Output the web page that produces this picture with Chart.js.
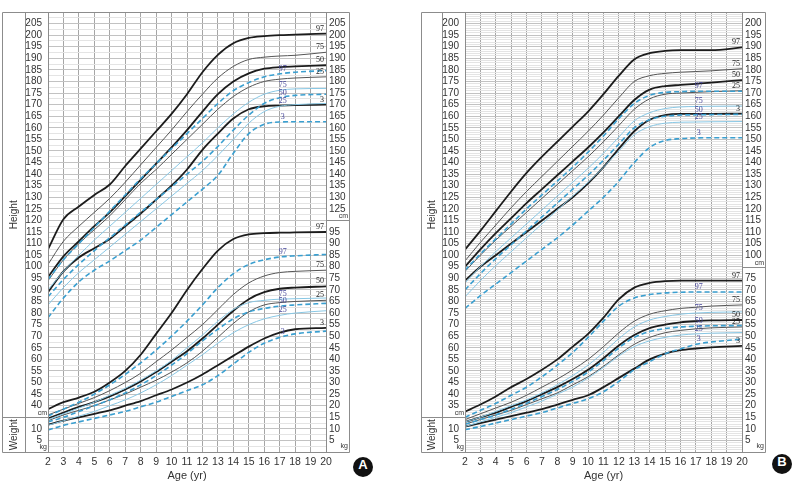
<!DOCTYPE html>
<html>
<head>
<meta charset="utf-8">
<script src="https://cdn.jsdelivr.net/npm/chart.js@4.4.1/dist/chart.umd.min.js"></script>
<style>
  html, body { margin: 0; padding: 0; background: #fff; }
  #wrap { position: relative; width: 794px; height: 484px; overflow: hidden; }
  canvas { position: absolute; top: 0; }
  .badge {
    position: absolute; width: 20px; height: 20px; border-radius: 50%;
    background: #111; color: #fff; text-align: center; line-height: 20px;
    font: bold 13px 'Liberation Sans', Arial, sans-serif;
  }
</style>
</head>
<body>
<div id="wrap">
  <canvas id="chartA" width="352" height="484" style="left:0px"></canvas>
  <canvas id="chartB" width="350" height="484" style="left:417px"></canvas>
  <div class="badge" style="left:353px;top:457px">A</div>
  <div class="badge" style="left:772px;top:454px">B</div>
</div>
<script>
// ─── Data ──────────────────────────────────────────────────────────────────
const AGES = [2, 3, 4, 5, 6, 7, 8, 9, 10, 11, 12, 13, 14, 15, 16, 17, 18, 20];
const AGE_TICKS = [2, 20];

// Panel A — height (cm)
const A_HT_BLACK_97 = [107.5,120.5,126,131,135.5,143.5,151,158.5,166,174.5,184,191.5,196.5,198.8,199.6,200,200.2,200.7];
const A_HT_BLACK_75 = [101,111,117.5,123.5,129.5,136.5,144,151.5,159,167,174.5,181.5,186.5,189.5,190.5,191,191.3,192.6];
const A_HT_BLACK_50 = [95.5,104.5,111,117.5,123.5,130.5,137.5,144.5,151.5,159,167,174.5,180,183.5,185.5,186.2,186.5,187];
const A_HT_BLACK_25 = [94,103,110,116,122,129,136,142,148.5,155,161.5,168,173.5,177.5,180,181,181.5,182];
const A_HT_BLACK_3  = [89,98,104,108,112,117.5,123,129,135,142,150.5,157.5,164,168,169.3,169.6,169.8,170];
const A_HT_BLUE_97  = [94.5,103,110,117,124,131,138,144.5,151,157.5,164,170.5,176,179.5,182,183.3,184,184.7];
const A_HT_BLUE_75  = [90,98,105,111.5,117.5,123.5,129.5,135.5,141.5,147.5,153.5,160,166,171,174.5,176.2,176.8,177];
const A_HT_BLUE_50  = [87,94.5,101,107,112.5,118,123.5,129,134.5,140,145.5,152,159,165.5,170.5,173,174,174.5];
const A_HT_BLUE_25  = [83.5,91,97.5,103,108.5,114,119.5,125,130.5,136,141.5,148,155,162,167,169.3,170,170.5];
const A_HT_BLUE_3   = [78,86.5,93.5,98.5,102.5,107,111.5,117,122.5,128,133.5,139.5,149,157.5,161.5,162.5,162.6,162.6];

// Panel A — weight (kg)
const A_WT_BLACK_97 = [18.5,21.5,23.5,26,30,35,42,51,60,70,79,87,92,94,94.5,94.7,94.8,95];
const A_WT_BLACK_75 = [16,18.5,21,23.5,26.5,30,34,39,44,49.5,55,61.5,68,73,76,77.5,78,78.5];
const A_WT_BLACK_50 = [14.5,17,19.5,21.5,24,27,30.5,34.5,39,43.5,49,55,61,66,69,70.5,71,71.5];
const A_WT_BLACK_25 = [13.5,16,18,20,22.5,25,28,31,34.5,38.5,43.5,49.5,55.5,60.5,63.5,64.5,65,65.5];
const A_WT_BLACK_3  = [11.8,13.5,15,16.5,18,20,22,24.5,27,30,33.5,37.5,41.5,45.5,49,51.5,53,53.6];
const A_WT_BLUE_97  = [15.5,18.5,21.5,25,29,33.5,38.5,44,50,56.5,63.5,71,77,81,83,84.2,84.7,85.3];
const A_WT_BLUE_75  = [14,16.5,19,21.5,24.5,27.5,31,35,39.5,45,50.5,56.5,61.5,64.5,65.5,66,66.2,66.5];
const A_WT_BLUE_50  = [13,15,17.5,20,22.5,25.5,29,33,37.5,42.5,48,53,57.5,60.5,62,63,63.5,64.2];
const A_WT_BLUE_25  = [11.5,13.5,15.5,17.5,20,22.5,25.5,29,33,37.5,42,47,51.5,55,57.5,59,60,61];
const A_WT_BLUE_3   = [9.5,11.5,13,14.5,16,17.5,19.5,21.5,24,26.5,29,33,38,43,47,49.5,51,52.2];

// Panel B — height (cm)
const B_HT_BLACK_97 = [102.4,110.5,119,127.5,135.5,142.5,149,155.5,162,169.5,177.5,184.5,187.2,188.2,188.5,188.5,188.5,189.7];
const B_HT_BLACK_75 = [97.5,105.5,113,120.5,127.5,134,140.5,147,153.5,160.5,168,175,177.5,178.5,179,179.3,179.6,180.5];
const B_HT_BLACK_50 = [95,102.5,109.5,116,122.5,128.5,134.5,140.5,146.5,153,160,167,171.5,173,173.5,174,174.5,175.6];
const B_HT_BLACK_25 = [93,100,106.5,112.5,118.5,124.5,130.5,136.5,142.5,149,156,163,167.5,169.5,170,170.3,170.6,171];
const B_HT_BLACK_3  = [89,95,100,105,110,115,120,125,131,138,146,153.5,158.5,160.5,161,161,161,161.1];
const B_HT_BLUE_97  = [93.5,100.5,107,113.5,120,126,132,138,144.5,151.5,159,165.5,169,170.3,170.6,170.8,170.8,170.8];
const B_HT_BLUE_75  = [88,95,101.5,107.5,113.5,119.5,125.5,131.5,137.5,144,151,158,161.5,163.3,164,164.2,164.3,164.4];
const B_HT_BLUE_50  = [85,92,98.5,104.5,110.5,116.5,122.5,128.5,134.5,141,148,155,158.5,160,160.5,160.6,160.7,160.8];
const B_HT_BLUE_25  = [82,89,95.5,101.5,107.5,113.5,119.5,125.5,131.5,138,145,152,155.5,157,157.4,157.5,157.6,157.7];
const B_HT_BLUE_3   = [77,82.5,87.5,92.5,97.5,102.5,107.5,113,119,125,132,140,146.5,149.5,150.3,150.6,150.7,150.7];

// Panel B — weight (kg)
const B_WT_BLACK_97 = [17.4,20.5,24,28,31.5,35.5,40,45.5,51,58,66,71,73,73.8,74,74,74,74];
const B_WT_BLACK_75 = [14,16.5,19,21.5,24.5,28,31.5,35.5,40,45.5,51.5,56.5,59.5,61,62,62.5,63,63.5];
const B_WT_BLACK_50 = [13,15,17,19.5,22,25,28,31.5,35.5,40.5,46,50.5,53.5,55,56,56.5,56.8,57];
const B_WT_BLACK_25 = [12,14,16,18,20.5,23,25.5,29,32.5,37,42,46.5,49.5,51.5,52.5,53.2,53.6,54];
const B_WT_BLACK_3  = [11,12.5,14,15.5,17,18.5,20.5,22.5,24.5,28,32,36,40,42.5,44,44.7,45.2,45.8];
const B_WT_BLUE_97  = [15,18,21,24.5,28,32.5,37.5,43,49.5,56.5,63,66.5,68,68.7,69,69.1,69.1,69.1];
const B_WT_BLUE_75  = [13,15,17.5,20,22.5,25.5,29,33,37.5,43,49,54,57,58.5,59.5,60,60.3,60.5];
const B_WT_BLUE_50  = [12,14,16,18.5,21,24,27,30.5,34.5,39.5,45,49.5,52,53.3,54,54.3,54.5,54.6];
const B_WT_BLUE_25  = [11,13,15,17,19.5,22,25,28,32,36.5,41.5,45.5,48,49.5,50.5,51,51.3,51.6];
const B_WT_BLUE_3   = [9.6,11,12.5,14,15.5,17,19,21,23,26,30.5,35.5,39,42.4,44.5,46.5,47.5,48.7];

// Axis label ranges (left: cm above the divider, kg below; right: cm above, kg below)
const A_LEFT_CM = [40, 205],  A_LEFT_KG = [5, 10],  A_RIGHT_CM = [125, 205], A_RIGHT_KG = [5, 95];
const B_LEFT_CM = [35, 200],  B_LEFT_KG = [5, 10],  B_RIGHT_CM = [100, 200], B_RIGHT_KG = [5, 75];

// ─── Styles ────────────────────────────────────────────────────────────────
const SANS = "'Liberation Sans', Arial, sans-serif";
const STYLE = {
  blackThick: { borderColor: '#1c1c1c', borderWidth: 1.8 },
  blackThin:  { borderColor: '#555555', borderWidth: 1 },
  blueDash:   { borderColor: '#3a9fd0', borderWidth: 1.6, borderDash: [5, 3] },
  blueThin:   { borderColor: '#88c7e4', borderWidth: 1 },
};

function series(values, pct, ref, axis) {
  const thick = pct === '97' || pct === '50' || pct === '3';
  const st = ref ? (thick ? STYLE.blackThick : STYLE.blackThin)
                 : (thick ? STYLE.blueDash : STYLE.blueThin);
  return Object.assign({
    label: pct,
    ref: ref,
    data: AGES.map((a, i) => ({ x: a, y: values[i] })),
    yAxisID: axis,
    pointRadius: 0,
    fill: false,
    cubicInterpolationMode: 'monotone',
  }, st);
}

function between(v, r) { return v >= r[0] && v <= r[1] && v % 5 === 0; }

// Percentile labels on the curves
const curveLabels = {
  id: 'curveLabels',
  afterDatasetsDraw(chart) {
    const { ctx } = chart;
    ctx.save();
    ctx.font = "8px 'Liberation Serif', 'DejaVu Serif', serif";
    chart.data.datasets.forEach((ds, i) => {
      const pts = chart.getDatasetMeta(i).data;
      if (ds.ref) {
        const p = pts[pts.length - 1];
        ctx.fillStyle = '#222';
        ctx.textAlign = 'right';
        ctx.fillText(ds.label, p.x - 2, p.y - 3);
      } else {
        const p = pts[AGES.indexOf(17)];
        ctx.fillStyle = '#45459a';
        ctx.textAlign = 'center';
        ctx.fillText(ds.label, p.x + 3, p.y - 3);
      }
    });
    ctx.restore();
  }
};

// Frame, separators and side titles
const frame = {
  id: 'frame',
  afterDraw(chart, args, o) {
    const { ctx, chartArea: ca, scales } = chart;
    const top = ca.top, bot = ca.bottom;
    const yL = Math.round(scales.y.getPixelForValue(o.divLeft)) + 0.5;
    const yR = Math.round(scales.yw.getPixelForValue(o.divRight)) + 0.5;
    ctx.save();
    ctx.strokeStyle = '#8c8c8c';
    ctx.lineWidth = 1;
    ctx.beginPath();
    ctx.rect(o.frameL + 0.5, top + 0.5, o.frameR - o.frameL, bot - top);
    ctx.moveTo(o.innerX + 0.5, top); ctx.lineTo(o.innerX + 0.5, bot);
    ctx.moveTo(ca.left + 0.5, top); ctx.lineTo(ca.left + 0.5, bot);
    ctx.moveTo(ca.right + 0.5, top); ctx.lineTo(ca.right + 0.5, bot);
    ctx.moveTo(o.frameL, yL); ctx.lineTo(ca.left, yL);
    ctx.moveTo(ca.right, yR); ctx.lineTo(o.frameR, yR);
    ctx.stroke();

    ctx.fillStyle = '#333';
    ctx.font = '10px ' + SANS;
    ctx.textAlign = 'center';
    ctx.textBaseline = 'middle';
    const cx = (o.frameL + o.innerX) / 2 + 1;
    [['Height', (top + yL) / 2], ['Weight', (yL + bot) / 2]].forEach(([t, cy]) => {
      ctx.save();
      ctx.translate(cx, cy);
      ctx.rotate(-Math.PI / 2);
      ctx.fillText(t, 0, 0);
      ctx.restore();
    });

    ctx.font = '7px ' + SANS;
    ctx.textAlign = 'right';
    ctx.textBaseline = 'bottom';
    ctx.fillText('cm', ca.left - 1, yL - 1);
    ctx.fillText('kg', ca.left - 1, bot - 1);
    ctx.fillText('cm', o.frameR - 1, yR - 1);
    ctx.fillText('kg', o.frameR - 1, bot - 2);
    ctx.restore();
  }
};

function makeChart(id, sets, cfg) {
  const tickFont = { family: SANS, size: 10 };
  return new Chart(document.getElementById(id), {
    type: 'line',
    data: { datasets: sets },
    plugins: [curveLabels, frame],
    options: {
      responsive: false,
      animation: false,
      layout: { padding: { left: 0, right: 0, top: cfg.top, bottom: 0 } },
      plugins: {
        legend: { display: false },
        tooltip: { enabled: false },
        frame: cfg,
      },
      scales: {
        x: {
          type: 'linear', min: AGE_TICKS[0], max: AGE_TICKS[1],
          afterFit: s => { s.height = 484 - 452; },
          ticks: { stepSize: 1, color: '#333', font: { family: SANS, size: 10.5 }, padding: 4, maxRotation: 0 },
          grid: { color: '#a6a6a6', drawTicks: false },
          border: { display: false },
          title: { display: true, text: 'Age (yr)', color: '#333',
                   font: { family: SANS, size: 11 }, padding: { top: 0, bottom: 1 } },
        },
        y: {
          type: 'linear', position: 'left', min: cfg.hMin, max: cfg.hMin + 190,
          afterFit: s => { s.width = cfg.plotL; },
          ticks: {
            stepSize: cfg.minor, autoSkip: false, color: '#333', font: tickFont, padding: 6,
            callback: v => between(v, cfg.leftCm) ? v
                         : between(v - cfg.off, cfg.leftKg) ? v - cfg.off : '',
          },
          grid: { drawTicks: false,
                  color: c => c.tick.value % 5 === 0 ? '#c2c2c2' : '#e4e4e4' },
          border: { display: false },
        },
        yw: {
          type: 'linear', position: 'right', min: cfg.hMin - cfg.off, max: cfg.hMin - cfg.off + 190,
          afterFit: s => { s.width = cfg.width - cfg.plotR; },
          ticks: {
            stepSize: 1, autoSkip: false, color: '#333', font: tickFont, padding: 3,
            callback: v => between(v, cfg.rightKg) ? v
                         : between(v + cfg.off, cfg.rightCm) ? v + cfg.off : '',
          },
          grid: { display: false, drawTicks: false },
          border: { display: false },
        },
      },
    },
  });
}

function panelSets(ht, wt) {
  const pcts = ['97', '75', '50', '25', '3'];
  const out = [];
  [[ht, 'y'], [wt, 'yw']].forEach(([grp, ax]) => {
    grp.blue.forEach((v, i) => out.push(series(v, pcts[i], false, ax)));
    grp.black.forEach((v, i) => out.push(series(v, pcts[i], true, ax)));
  });
  return out;
}

makeChart('chartA', panelSets(
  { black: [A_HT_BLACK_97, A_HT_BLACK_75, A_HT_BLACK_50, A_HT_BLACK_25, A_HT_BLACK_3],
    blue:  [A_HT_BLUE_97, A_HT_BLUE_75, A_HT_BLUE_50, A_HT_BLUE_25, A_HT_BLUE_3] },
  { black: [A_WT_BLACK_97, A_WT_BLACK_75, A_WT_BLACK_50, A_WT_BLACK_25, A_WT_BLACK_3],
    blue:  [A_WT_BLUE_97, A_WT_BLUE_75, A_WT_BLUE_50, A_WT_BLUE_25, A_WT_BLUE_3] }),
  { width: 352, top: 2, plotL: 48, plotR: 326, frameL: 2, innerX: 25, frameR: 349,
    hMin: 20, off: 20, divLeft: 35, divRight: 100, minor: 2.5,
    leftCm: A_LEFT_CM, leftKg: A_LEFT_KG, rightCm: A_RIGHT_CM, rightKg: A_RIGHT_KG });

makeChart('chartB', panelSets(
  { black: [B_HT_BLACK_97, B_HT_BLACK_75, B_HT_BLACK_50, B_HT_BLACK_25, B_HT_BLACK_3],
    blue:  [B_HT_BLUE_97, B_HT_BLUE_75, B_HT_BLUE_50, B_HT_BLUE_25, B_HT_BLUE_3] },
  { black: [B_WT_BLACK_97, B_WT_BLACK_75, B_WT_BLACK_50, B_WT_BLACK_25, B_WT_BLACK_3],
    blue:  [B_WT_BLUE_97, B_WT_BLUE_75, B_WT_BLUE_50, B_WT_BLUE_25, B_WT_BLUE_3] }),
  { width: 350, top: 3, plotL: 48, plotR: 325, frameL: 4, innerX: 25, frameR: 348,
    hMin: 15, off: 15, divLeft: 30, divRight: 80, minor: 1,
    leftCm: B_LEFT_CM, leftKg: B_LEFT_KG, rightCm: B_RIGHT_CM, rightKg: B_RIGHT_KG });
</script>
</body>
</html>
